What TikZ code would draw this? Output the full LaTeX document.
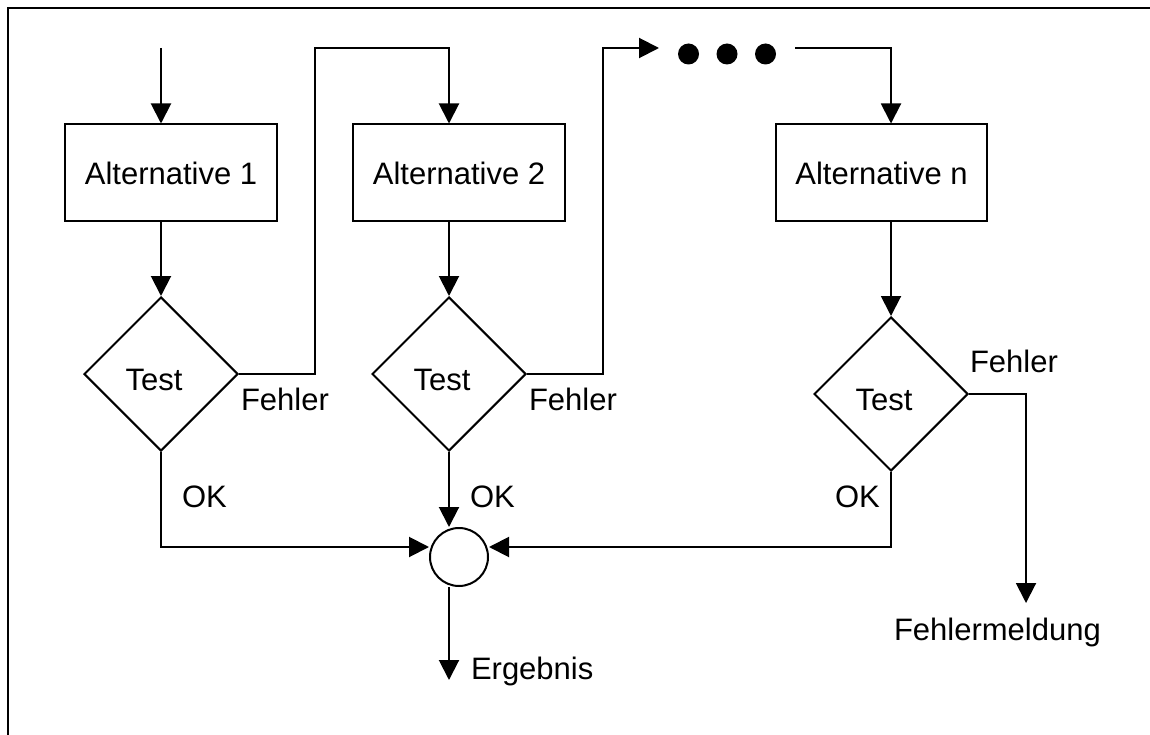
\documentclass[tikz,border=0pt]{standalone}
\usepackage{fontspec}
\setmainfont{Liberation Sans}
\usetikzlibrary{arrows.meta,shapes.geometric}

\begin{document}
\begin{tikzpicture}[x=1pt,y=-1pt,line width=2pt,
	font=\fontsize{31}{37}\selectfont,
	arr/.style={-{Triangle[length=20pt,width=20pt]}},
	alt/.style={draw,rectangle,minimum width=212pt,minimum height=97pt,inner sep=0pt},
	test/.style={draw,diamond,minimum width=154pt,minimum height=154pt,inner sep=0pt,
		text height=32pt,text depth=0pt},
	lbl/.style={anchor=base west,inner sep=0pt}]
			\useasboundingbox (0,0) rectangle (1150,735);
			\draw [line width=2.5pt] (8,735) -- (8,8) -- (1150,8);
			% alternatives
			\node [alt] (box1) at (171,173) {Alternative 1};
			\node [alt] (box2) at (459,173) {Alternative 2};
			\node [alt,minimum width=211pt] (boxn) at (881.5,173) {Alternative n};
			% tests
			\node [test] (d1) at (161,374) {Test\hspace*{14pt}};
			\node [test] (d2) at (449,374) {Test\hspace*{14pt}};
			\node [test] (dn) at (891,394) {Test\hspace*{14pt}};
			\node [draw,circle,minimum size=58pt,inner sep=0pt] (merge) at (459,557) {};
			% ellipsis
			\node [minimum width=134pt,minimum height=21pt,inner sep=0pt] (dots) at (727,48) {};
			\foreach \dx in {-38.5,0,38.5}
				\fill ([xshift=\dx pt,yshift=-6pt]dots.center) circle (10.5pt);
			% free ends
			\coordinate (in1) at (161,48);
			\coordinate (k1) at (315,48);
			\coordinate (k2) at (603,48);
			\coordinate (fm) at (1026,603);
			\coordinate (erg) at (449,680);
			% connectors
			\draw [arr] (in1) -- (in1 |- box1.north);
			\draw [arr] (d1.north |- box1.south) -- (d1.north);
			\draw [arr] (d2.north |- box2.south) -- (d2.north);
			\draw [arr] (dn.north |- boxn.south) -- (dn.north);
			\draw [arr] (d1.east) -| (k1) -| (d2.north |- box2.north);
			\draw [arr] (d2.east) -| (k2) -- (dots.west);
			\draw [arr] (dots.east) -| (dn.north |- boxn.north);
			\draw [arr] (dn.east) -| (fm);
			\draw [arr] (d1.south) |- ([yshift=10pt]merge.west);
			\draw [arr] (dn.south) |- ([yshift=10pt]merge.east);
			\draw [arr] (d2.south) -- (d2.south |- merge.north);
			\draw [arr] (d2.south |- merge.south) -- (erg);
			% labels
			\node [lbl] (f1) at (240,410) {Fehler};
			\node [lbl] (f2) at (528,410) {Fehler};
			\node [lbl] (fn) at (969,372) {Fehler};
			\node [lbl] (ok1) at (181,507) {OK};
			\node [lbl] (ok2) at (469,507) {OK};
			\node [lbl] (okn) at (834,507) {OK};
			\node [lbl] (meld) at (893,640) {Fehlermeldung};
			\node [lbl] (res) at (470,679) {Ergebnis};
\end{tikzpicture}
\end{document}
